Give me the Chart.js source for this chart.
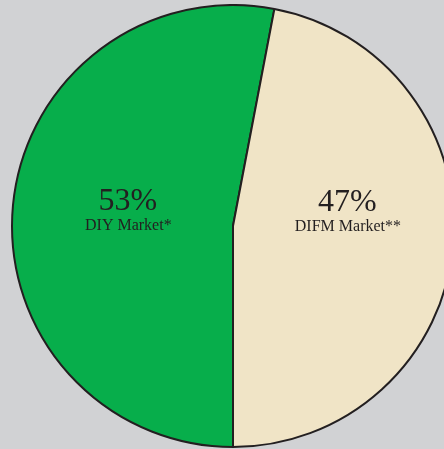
<!DOCTYPE html>
<html>
<head>
<meta charset="utf-8">
<script src="https://cdn.jsdelivr.net/npm/chart.js@4"></script>
<style>
  html, body { margin: 0; padding: 0; background: #d1d2d4; overflow: hidden; width: 444px; height: 449px; }
  #wrap { position: absolute; left: 0; top: 4px; width: 466px; height: 444px; }
</style>
</head>
<body>
<div id="wrap"><canvas id="c"></canvas></div>
<script>
const categories = ["DIY Market*", "DIFM Market**"];
const shares = [53, 47];
const sliceColors = ["#07ae4b", "#f0e4c6"];

const labelPlugin = {
  id: "sliceLabels",
  afterDatasetsDraw(chart, args, opts) {
    const ctx = chart.ctx;
    const meta = chart.getDatasetMeta(0);
    const total = shares.reduce((a, b) => a + b, 0);
    meta.data.forEach((arc, i) => {
      const p = arc.getProps(["x", "y", "startAngle", "endAngle", "outerRadius"], true);
      const mid = (p.startAngle + p.endAngle) / 2;
      const x = p.x + Math.cos(mid) * p.outerRadius * opts.radial[i];
      const y = p.y + opts.dy[i];
      ctx.save();
      ctx.fillStyle = "#231f20";
      ctx.textAlign = "center";
      ctx.textBaseline = "alphabetic";
      ctx.font = "32px 'Liberation Serif', serif";
      ctx.fillText(Math.round(shares[i] / total * 100) + "%", x, y);
      ctx.font = "16px 'Liberation Serif', serif";
      ctx.fillText(categories[i], x + 0.5, y + 20);
      ctx.restore();
    });
  }
};

new Chart(document.getElementById("c"), {
  type: "pie",
  data: {
    labels: categories,
    datasets: [{
      data: shares,
      backgroundColor: sliceColors,
      borderColor: "#231f20",
      borderWidth: 2,
      hoverOffset: 0
    }]
  },
  options: {
    responsive: true,
    maintainAspectRatio: false,
    animation: false,
    rotation: 180,
    layout: { padding: 0 },
    plugins: {
      legend: { display: false },
      tooltip: { enabled: false },
      sliceLabels: { radial: [0.478, 0.52], dy: [-16, -15] }
    }
  },
  plugins: [labelPlugin]
});
</script>
</body>
</html>
